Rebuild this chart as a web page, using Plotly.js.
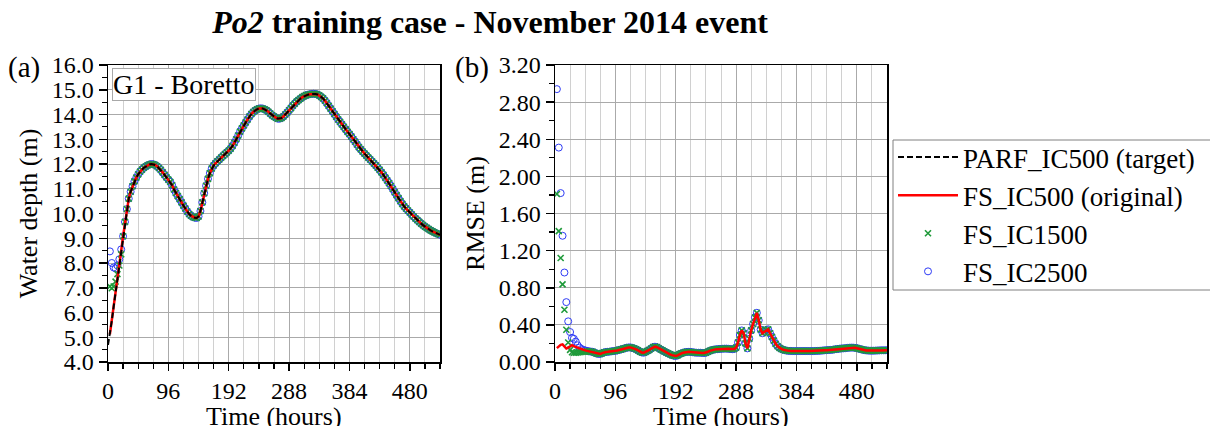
<!DOCTYPE html>
<html>
<head>
<meta charset="utf-8">
<script src="https://cdn.plot.ly/plotly-3.0.1.min.js"></script>
<style>html,body{margin:0;padding:0;background:#fff;}#chart{width:1210px;height:426px;}</style>
</head>
<body>
<div id="chart"></div>
<script>
// ---- data ----
// time step between saved values, hours
const timeStepHours = 3;

// (a) water depth at G1 - Boretto, PARF_IC500 target, h = 0, 3, ..., 528
const depthTarget = [
  4.69, 5.12, 5.65, 6.24, 6.80, 7.37, 7.95, 8.50,
  9.08, 9.66, 10.18, 10.60, 10.88, 11.10, 11.30, 11.45,
  11.58, 11.69, 11.77, 11.85, 11.90, 11.95, 11.98, 12.00,
  11.99, 11.96, 11.91, 11.84, 11.76, 11.66, 11.56, 11.46,
  11.37, 11.28, 11.14, 10.97, 10.83, 10.70, 10.58, 10.45,
  10.32, 10.20, 10.08, 9.98, 9.91, 9.86, 9.83, 9.82,
  9.88, 10.10, 10.45, 10.82, 11.12, 11.40, 11.63, 11.82,
  11.94, 12.03, 12.11, 12.18, 12.26, 12.33, 12.40, 12.47,
  12.54, 12.62, 12.73, 12.86, 13.00, 13.15, 13.31, 13.44,
  13.56, 13.68, 13.80, 13.92, 14.02, 14.10, 14.16, 14.21,
  14.24, 14.25, 14.24, 14.21, 14.17, 14.11, 14.04, 13.97,
  13.92, 13.87, 13.83, 13.83, 13.86, 13.92, 14.00, 14.08,
  14.17, 14.26, 14.36, 14.44, 14.52, 14.58, 14.64, 14.70,
  14.74, 14.78, 14.80, 14.82, 14.83, 14.84, 14.83, 14.81,
  14.77, 14.71, 14.65, 14.56, 14.46, 14.35, 14.24, 14.13,
  14.02, 13.91, 13.80, 13.70, 13.60, 13.50, 13.40, 13.30,
  13.21, 13.11, 13.00, 12.90, 12.79, 12.68, 12.59, 12.50,
  12.42, 12.34, 12.26, 12.18, 12.10, 12.02, 11.94, 11.85,
  11.76, 11.66, 11.56, 11.45, 11.34, 11.23, 11.11, 10.99,
  10.86, 10.74, 10.62, 10.50, 10.39, 10.29, 10.20, 10.12,
  10.04, 9.96, 9.88, 9.80, 9.73, 9.66, 9.59, 9.53,
  9.47, 9.42, 9.37, 9.32, 9.28, 9.24, 9.20, 9.17,
  9.14
];
// FS runs coincide with the target except the first hours (h = 3 ... 21)
const depthIC500Start = 3;           // FS_IC500 saved from h = 3
const depthIC1500Early = [7.05, 6.98, 7.05, 7.25, 7.55, 7.90, 8.35];
const depthIC2500Early = [8.47, 8.00, 7.82, 7.78, 7.90, 8.15, 8.55];

// (b) RMSE (m), FS_IC500, h = 3, 6, ..., 528
const rmseIC500 = [
  0.150, 0.170, 0.185, 0.190, 0.165, 0.145, 0.155, 0.170,
  0.180, 0.170, 0.160, 0.155, 0.147, 0.140, 0.130, 0.125,
  0.120, 0.115, 0.112, 0.110, 0.100, 0.092, 0.087, 0.087,
  0.095, 0.103, 0.108, 0.110, 0.112, 0.115, 0.118, 0.120,
  0.125, 0.130, 0.136, 0.141, 0.148, 0.154, 0.157, 0.157,
  0.152, 0.145, 0.137, 0.125, 0.112, 0.103, 0.100, 0.108,
  0.120, 0.130, 0.145, 0.160, 0.165, 0.160, 0.148, 0.135,
  0.125, 0.113, 0.102, 0.093, 0.083, 0.074, 0.067, 0.065,
  0.072, 0.085, 0.093, 0.100, 0.106, 0.109, 0.110, 0.108,
  0.105, 0.102, 0.100, 0.100, 0.100, 0.098, 0.097, 0.100,
  0.110, 0.120, 0.128, 0.133, 0.136, 0.138, 0.140, 0.142,
  0.143, 0.144, 0.144, 0.142, 0.140, 0.138, 0.140, 0.155,
  0.210, 0.290, 0.340, 0.310, 0.200, 0.147, 0.250, 0.340,
  0.410, 0.480, 0.530, 0.450, 0.350, 0.310, 0.325, 0.345,
  0.352, 0.310, 0.270, 0.230, 0.195, 0.170, 0.152, 0.140,
  0.132, 0.126, 0.122, 0.120, 0.119, 0.118, 0.118, 0.118,
  0.118, 0.118, 0.118, 0.118, 0.118, 0.118, 0.118, 0.118,
  0.118, 0.119, 0.120, 0.121, 0.122, 0.124, 0.126, 0.127,
  0.129, 0.130, 0.132, 0.135, 0.138, 0.141, 0.144, 0.146,
  0.147, 0.149, 0.152, 0.154, 0.155, 0.155, 0.153, 0.149,
  0.143, 0.138, 0.133, 0.128, 0.125, 0.123, 0.122, 0.122,
  0.122, 0.123, 0.124, 0.125, 0.126, 0.126, 0.126, 0.127
];
// early RMSE of the other runs (h = 3, 6, ...), afterwards they follow FS_IC500
const rmseIC1500Early = [1.81, 1.41, 1.12, 0.836, 0.563, 0.348, 0.21, 0.13, 0.105, 0.10, 0.10, 0.102, 0.105, 0.108, 0.11, 0.112, 0.115];
const rmseIC2500Early = [2.94, 2.31, 1.82, 1.36, 0.964, 0.645, 0.438, 0.323, 0.26, 0.25, 0.22, 0.18, 0.155, 0.14, 0.13];

const names = ['PARF_IC500 (target)', 'FS_IC500 (original)', 'FS_IC1500', 'FS_IC2500'];
const xTicks = [0, 96, 192, 288, 384, 480];

// ---- series assembly ----
const depthIC500 = depthTarget.slice(depthIC500Start / timeStepHours);
const depthIC1500 = depthIC1500Early.concat(depthTarget.slice(depthIC1500Early.length + 1));
const depthIC2500 = depthIC2500Early.concat(depthTarget.slice(depthIC2500Early.length + 1));
const rmseIC1500 = rmseIC1500Early.concat(rmseIC500.slice(rmseIC1500Early.length));
const rmseIC2500 = rmseIC2500Early.concat(rmseIC500.slice(rmseIC2500Early.length));

const GREEN = '#1f9a3a', BLUE = '#2f3cf5', RED = '#ff0000';
const blueMarker = {symbol: 'circle-open', size: 7, color: BLUE, line: {width: 1, color: BLUE}};
const greenMarker = {symbol: 'x-thin', size: 6, color: GREEN, line: {width: 1.6, color: GREEN}};

const traces = [
  {y: depthIC2500, x0: 3, dx: timeStepHours, mode: 'markers', marker: blueMarker, name: names[3], legendrank: 4, xaxis: 'x', yaxis: 'y'},
  {y: depthIC1500, x0: 3, dx: timeStepHours, mode: 'markers', marker: greenMarker, name: names[2], legendrank: 3, xaxis: 'x', yaxis: 'y'},
  {y: depthIC500, x0: depthIC500Start, dx: timeStepHours, mode: 'lines', line: {color: RED, width: 2.5}, name: names[1], legendrank: 2, xaxis: 'x', yaxis: 'y'},
  {y: depthTarget, x0: 0, dx: timeStepHours, mode: 'lines', line: {color: 'black', width: 2, dash: '6px,3px'}, name: names[0], legendrank: 1, xaxis: 'x', yaxis: 'y'},
  {y: rmseIC2500, x0: 3, dx: timeStepHours, mode: 'markers', marker: blueMarker, name: names[3], showlegend: false, xaxis: 'x2', yaxis: 'y2'},
  {y: rmseIC1500, x0: 3, dx: timeStepHours, mode: 'markers', marker: greenMarker, name: names[2], showlegend: false, xaxis: 'x2', yaxis: 'y2'},
  {y: rmseIC500, x0: 3, dx: timeStepHours, mode: 'lines', line: {color: RED, width: 2.5}, name: names[1], showlegend: false, xaxis: 'x2', yaxis: 'y2'}
];

const W = 1210, H = 426;
const FONT = 'Liberation Serif';
const yDom = [1 - 362 / H, 1 - 65 / H];
const domA = [108 / W, 440 / W], domB = [555 / W, 887 / W];

function xAxis(dom, anchor) {
  return {
    domain: dom, anchor: anchor, range: [0, 528], tickmode: 'array', tickvals: xTicks,
    ticks: 'outside', ticklen: 7, tickwidth: 1.5, tickcolor: 'black',
    showline: true, linewidth: 1.5, linecolor: 'black', mirror: true,
    showgrid: true, gridcolor: '#aaaaaa', gridwidth: 1, zeroline: false,
    minor: {dtick: 24, tick0: 0, ticks: 'outside', ticklen: 5, tickwidth: 1.2, tickcolor: 'black', showgrid: true, gridcolor: '#d0d0d0', gridwidth: 1},
    tickfont: {size: 24, family: FONT}
  };
}
function yAxis(anchor, range, dtick, minorDtick, fmt, title) {
  return {
    domain: yDom, anchor: anchor, range: range, dtick: dtick, tick0: 0, tickformat: fmt,
    ticks: 'outside', ticklen: 8, tickwidth: 1.5, tickcolor: 'black',
    showline: true, linewidth: 1.5, linecolor: 'black', mirror: true,
    showgrid: true, gridcolor: '#aaaaaa', gridwidth: 1, zeroline: false,
    minor: {dtick: minorDtick, ticks: 'outside', ticklen: 5, tickwidth: 1.2, tickcolor: 'black', showgrid: false},
    tickfont: {size: 24, family: FONT}, title: {text: title, font: {size: 26, family: FONT}, standoff: 6}
  };
}
function xTitle(dom) {
  return {text: 'Time (hours)', xref: 'paper', yref: 'paper', x: (dom[0] + dom[1]) / 2, xanchor: 'center',
          y: 1 - 416 / H, yanchor: 'middle', showarrow: false, font: {size: 26, family: FONT}};
}

const layout = {
  width: W, height: H, margin: {l: 0, r: 0, t: 0, b: 0},
  paper_bgcolor: 'white', plot_bgcolor: 'white',
  font: {family: FONT, size: 24, color: 'black'},
  title: {text: '<b><i>Po2</i> training case - November 2014 event</b>', font: {size: 32, family: FONT},
          x: 490 / W, xanchor: 'center', xref: 'paper', y: 1 - 22 / H, yanchor: 'middle', yref: 'paper'},
  xaxis: xAxis(domA, 'y'),
  yaxis: yAxis('x', [4, 16], 1, 0.5, '.1f', 'Water depth (m)'),
  xaxis2: xAxis(domB, 'y2'),
  yaxis2: yAxis('x2', [0, 3.2], 0.4, 0.2, '.2f', 'RMSE (m)'),
  showlegend: true,
  legend: {x: 893 / W, xanchor: 'left', y: 1 - 133 / H, yanchor: 'top', bgcolor: 'rgba(0,0,0,0)',
           borderwidth: 0, font: {size: 27, family: FONT}, itemwidth: 60, traceorder: 'normal'},
  shapes: [
    {type: 'rect', xref: 'paper', yref: 'paper', x0: 893 / W, x1: 1.01, y0: 1 - 290 / H, y1: 1 - 140 / H,
     line: {color: '#808080', width: 1}, fillcolor: 'white', layer: 'below'}
  ],
  annotations: [
    xTitle(domA), xTitle(domB),
    {text: '(a)', xref: 'paper', yref: 'paper', x: 6 / W, xanchor: 'left', y: 1 - 68 / H, yanchor: 'middle', showarrow: false, font: {size: 29, family: FONT}},
    {text: '(b)', xref: 'paper', yref: 'paper', x: 453 / W, xanchor: 'left', y: 1 - 68 / H, yanchor: 'middle', showarrow: false, font: {size: 29, family: FONT}},
    {text: 'G1 - Boretto', xref: 'paper', yref: 'paper', x: 112 / W, xanchor: 'left', y: 1 - 68 / H, yanchor: 'top', showarrow: false,
     font: {size: 28, family: FONT}, bgcolor: 'white', bordercolor: '#a8a8a8', borderwidth: 1, borderpad: 0}
  ]
};

Plotly.newPlot('chart', traces, layout, {staticPlot: true, displayModeBar: false});
</script>
</body>
</html>
